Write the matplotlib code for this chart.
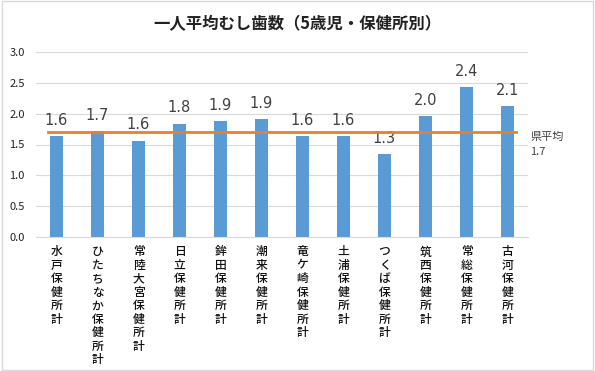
import numpy as np
import matplotlib.pyplot as plt
from matplotlib.patches import Rectangle

plt.rcParams['font.family'] = ['Noto Sans CJK JP', 'DejaVu Sans']

# data
centers = ['水戸保健所計', 'ひたちなか保健所計', '常陸大宮保健所計', '日立保健所計',
           '鉾田保健所計', '潮来保健所計', '竜ケ崎保健所計', '土浦保健所計',
           'つくば保健所計', '筑西保健所計', '常総保健所計', '古河保健所計']
caries = [1.64, 1.72, 1.56, 1.84, 1.88, 1.91, 1.64, 1.64, 1.34, 1.96, 2.43, 2.12]
pref_avg = 1.7
yticks = [0.0, 0.5, 1.0, 1.5, 2.0, 2.5, 3.0]

W, H = 595, 371
fig = plt.figure(figsize=(W / 100, H / 100), dpi=100)
ax = fig.add_axes([36 / W, (H - 237) / H, 492 / W, 185 / H])

x = np.arange(len(centers))
ax.bar(x, caries, width=0.32, color='#5B9BD5', zorder=2)
for xi, v in zip(x, caries):
    ax.annotate(f'{v:.1f}', (xi, v), xytext=(0, 6), textcoords='offset points',
                ha='center', va='bottom', fontsize=10.5, color='#404040',
                family=['DejaVu Sans'])

# prefecture average line
ax.plot([x[0] - 0.2, x[-1] + 0.2], [pref_avg, pref_avg], color='#ED7D31', lw=2, zorder=3)
ax.text(x[-1] + 0.55, pref_avg, f'県平均\n{pref_avg}', ha='left', va='top',
        fontsize=8, color='#404040', linespacing=1.6)

ax.set_xlim(-0.5, len(centers) - 0.5)
ax.set_ylim(0, 3.0)
ax.set_yticks(yticks)
ax.set_yticklabels([f'{t:.1f}' for t in yticks], fontsize=8, color='#222222')
ax.yaxis.grid(True, color='#D9D9D9', lw=0.8, zorder=0)
ax.set_axisbelow(True)
for s in ['top', 'right', 'left']:
    ax.spines[s].set_visible(False)
ax.spines['bottom'].set_color('#D9D9D9')
ax.tick_params(axis='y', length=0, pad=8)
ax.tick_params(axis='x', length=0, pad=6)
ax.set_xticks(x)
ax.set_xticklabels(['\n'.join(c) for c in centers], fontsize=8.5, color='#111111',
                   linespacing=1.05, va='top', fontweight='medium')

fig.text(0.5, 1 - 24 / H, '一人平均むし歯数（5歳児・保健所別）', ha='center', va='center',
         fontsize=11.8, fontweight='bold', color='#222222')

fig.patches.append(Rectangle((0.003, 0.003), 0.994, 0.994, transform=fig.transFigure,
                             fill=False, edgecolor='#D9D9D9', lw=1))

fig.savefig('out.png', dpi=100)
